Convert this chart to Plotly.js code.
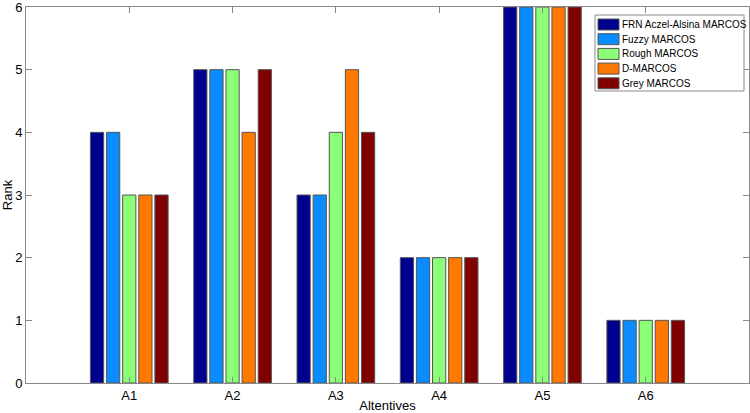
<!DOCTYPE html>
<html>
<head>
<meta charset="utf-8">
<script src="https://cdn.plot.ly/plotly-3.0.1.min.js"></script>
<style>html,body{margin:0;padding:0;background:#fff;}#chart{width:750px;height:413px;}</style>
</head>
<body>
<div id="chart"></div>
<script>
const categories = ["A1", "A2", "A3", "A4", "A5", "A6"];
const seriesNames = ["FRN Aczel-Alsina MARCOS", "Fuzzy MARCOS", "Rough MARCOS", "D-MARCOS", "Grey MARCOS"];
const frnAczelAlsina = [4, 5, 3, 2, 6, 1];
const fuzzyMarcos = [4, 5, 3, 2, 6, 1];
const roughMarcos = [3, 5, 4, 2, 6, 1];
const dMarcos = [3, 4, 5, 2, 6, 1];
const greyMarcos = [3, 5, 4, 2, 6, 1];
const colors = ["#00008F", "#0A8CFF", "#8CFF78", "#FF7800", "#800000"];

const allSeries = [frnAczelAlsina, fuzzyMarcos, roughMarcos, dMarcos, greyMarcos];
const xpos = categories.map((c, i) => i + 1);
const traces = allSeries.map((vals, k) => ({
  type: "bar",
  name: seriesNames[k],
  x: xpos,
  y: vals,
  showlegend: false,
  marker: {color: colors[k], line: {color: "#555555", width: 1}}
}));

// plot area geometry in pixels (for the hand-drawn legend box)
const W = 750, H = 413, mL = 26, mR = 1, mT = 7, mB = 30;
const pw = W - mL - mR, ph = H - mT - mB;
const px = X => (X - mL) / pw;
const py = Y => (H - mB - Y) / ph;

const shapes = [{
  type: "rect", xref: "paper", yref: "paper",
  x0: px(595), x1: px(744), y0: py(91), y1: py(15),
  fillcolor: "#fff", line: {color: "#888", width: 1}, layer: "above"
}];
const annotations = [];
seriesNames.forEach((name, k) => {
  const cy = 24.5 + k * 14.7;
  shapes.push({
    type: "rect", xref: "paper", yref: "paper",
    x0: px(598), x1: px(619), y0: py(cy + 5.5), y1: py(cy - 5.5),
    fillcolor: colors[k], line: {color: "#555", width: 1}, layer: "above"
  });
  annotations.push({
    xref: "paper", yref: "paper", x: px(620), y: py(cy),
    xanchor: "left", yanchor: "middle", showarrow: false,
    text: name, font: {family: "Liberation Sans, Arial, sans-serif", size: 10, color: "#000"}
  });
});

const font = {family: "Liberation Sans, Arial, sans-serif", size: 12, color: "#000"};
const layout = {
  width: W, height: H,
  margin: {l: mL, r: mR, t: mT, b: mB, autoexpand: false},
  paper_bgcolor: "#fff", plot_bgcolor: "#fff",
  font: font,
  barmode: "group",
  bargap: 0.22,
  bargroupgap: 0.18,
  showlegend: false,
  shapes: shapes,
  annotations: annotations,
  xaxis: {
    range: [0, 7],
    tickmode: "array", tickvals: xpos, ticktext: categories,
    ticks: "inside", ticklen: 6, tickcolor: "#888",
    showline: true, linecolor: "#888", mirror: "ticks",
    showgrid: false, zeroline: false,
    title: {text: "Altentives", font: {size: 13}, standoff: 2},
    tickfont: {size: 13}, automargin: false
  },
  yaxis: {
    range: [0, 6],
    tickvals: [0, 1, 2, 3, 4, 5, 6],
    ticks: "inside", ticklen: 6, tickcolor: "#888",
    showline: true, linecolor: "#888", mirror: "ticks",
    showgrid: false, zeroline: false,
    ticklabeloverflow: "allow",
    title: {text: "Rank", font: {size: 13}, standoff: 4},
    tickfont: {size: 13}, automargin: false
  }
};
Plotly.newPlot("chart", traces, layout, {displayModeBar: false, staticPlot: true});
</script>
</body>
</html>
